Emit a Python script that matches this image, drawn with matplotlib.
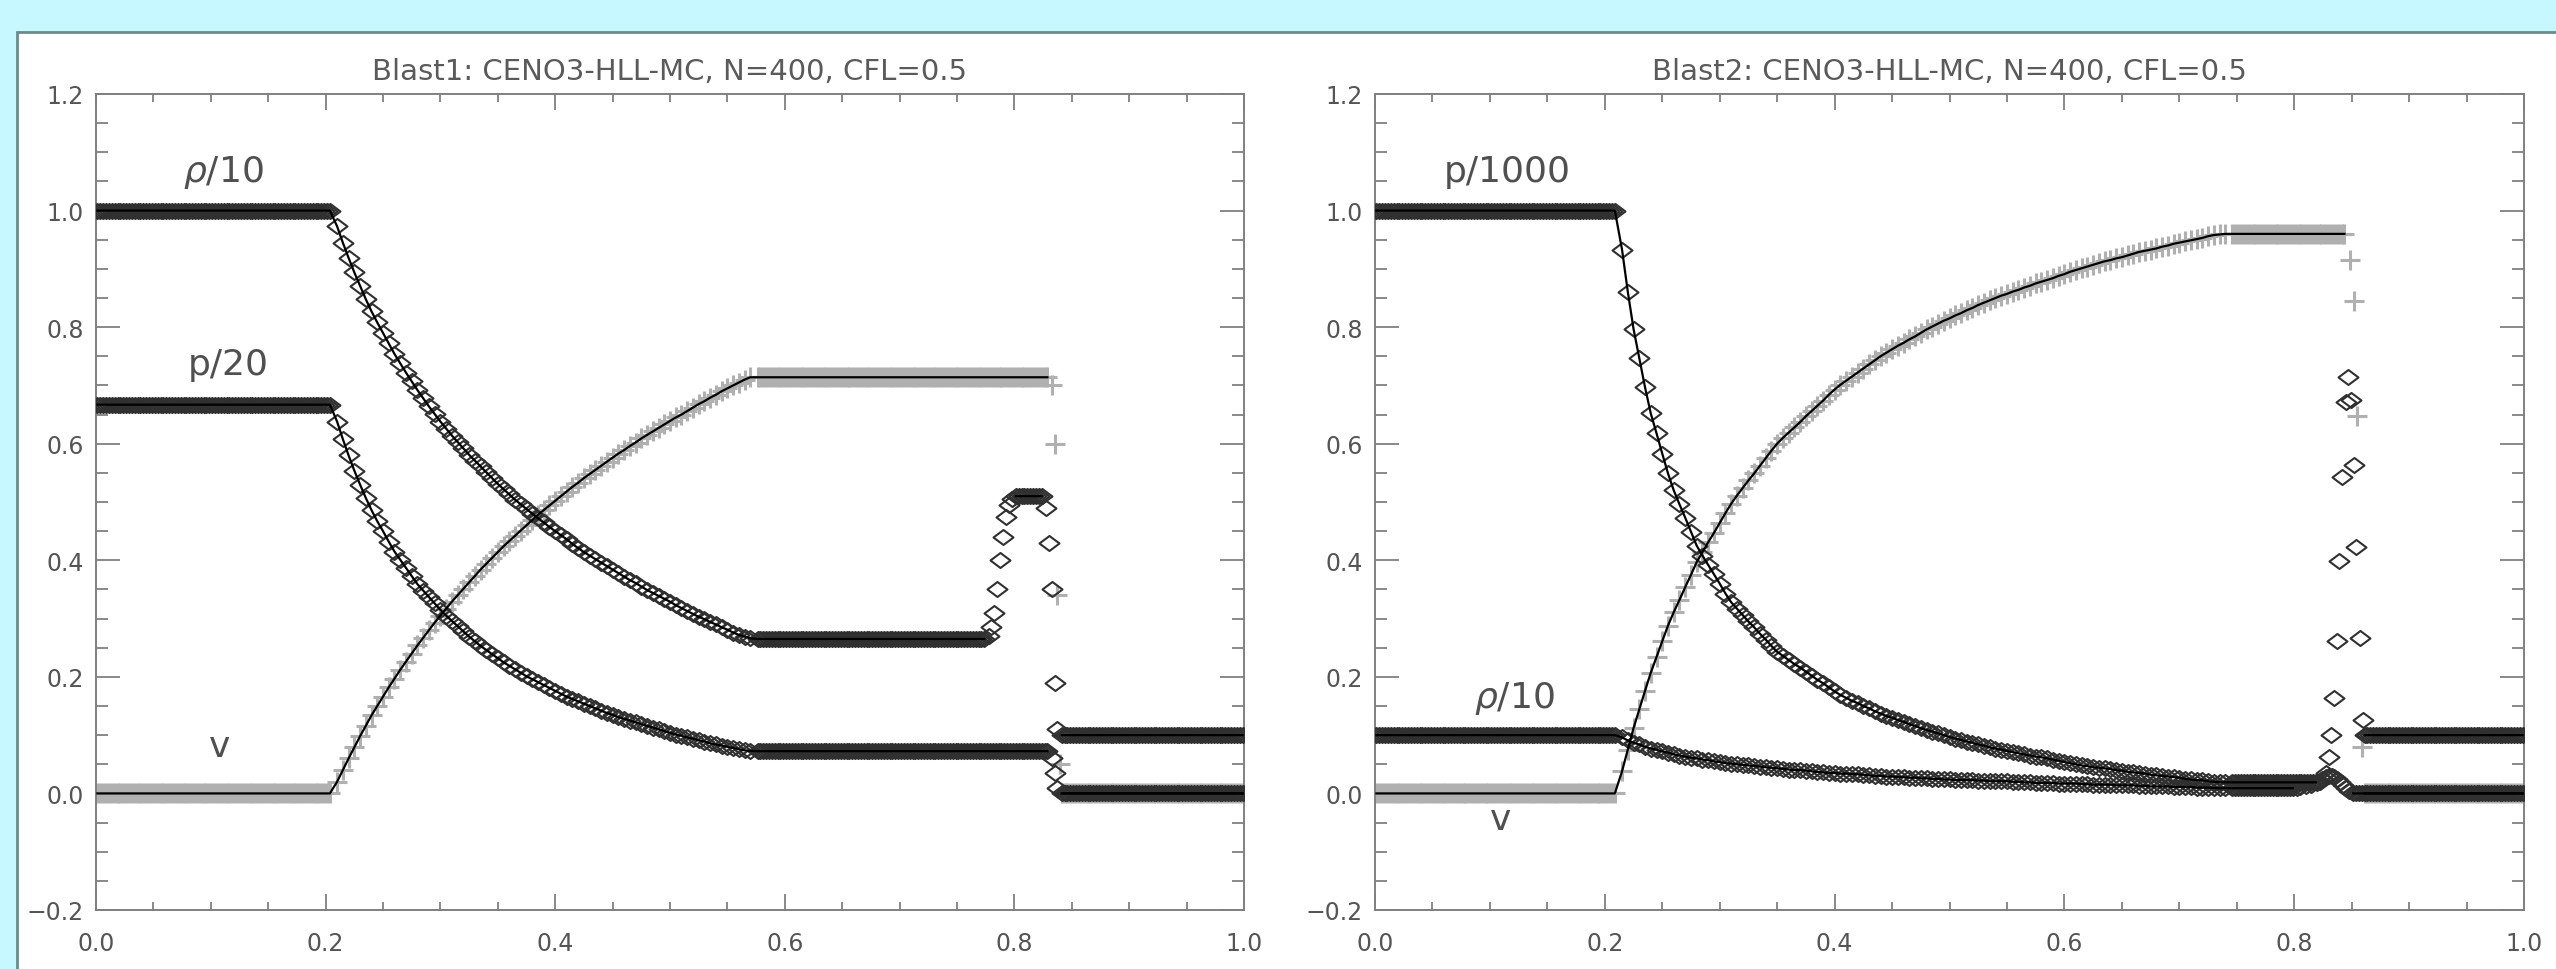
import numpy as np
import matplotlib
matplotlib.use("Agg")
import matplotlib.pyplot as plt
from matplotlib.path import Path
from matplotlib.patches import Rectangle
from matplotlib.ticker import MultipleLocator, FuncFormatter

N = 400
cells = (np.arange(N) + 0.5) / N

titles = ["Blast1: CENO3-HLL-MC, N=400, CFL=0.5",
          "Blast2: CENO3-HLL-MC, N=400, CFL=0.5"]

# ---- Blast1 (left) ----
# plateaus: (x from, x to, value)
b1_rho_flat = [(0.0, 0.205, 1.0), (0.575, 0.776, 0.265), (0.799, 0.826, 0.51), (0.839, 1.0, 0.1)]
b1_p_flat = [(0.0, 0.205, 0.667), (0.575, 0.831, 0.0725), (0.839, 1.0, 0.0)]
b1_v_flat = [(0.0, 0.205, 0.0), (0.575, 0.829, 0.714), (0.841, 1.0, 0.0)]

# rarefaction fan, read every 0.005 from x=0.21 to 0.57
b1_fan_x = np.round(np.arange(0.21, 0.5701, 0.005), 3)
b1_fan_rho = [0.973, 0.945, 0.919, 0.894, 0.871, 0.848, 0.827, 0.808, 0.790, 0.772,
              0.754, 0.738, 0.722, 0.707, 0.692, 0.678, 0.664, 0.651, 0.638, 0.626,
              0.614, 0.603, 0.592, 0.581, 0.571, 0.561, 0.551, 0.541, 0.531, 0.522,
              0.513, 0.504, 0.496, 0.488, 0.480, 0.472, 0.465, 0.457, 0.450, 0.443,
              0.436, 0.428, 0.421, 0.414, 0.408, 0.402, 0.396, 0.390, 0.384, 0.378,
              0.372, 0.366, 0.361, 0.355, 0.349, 0.344, 0.339, 0.334, 0.329, 0.323,
              0.318, 0.313, 0.308, 0.303, 0.299, 0.294, 0.290, 0.285, 0.281, 0.276,
              0.272, 0.269, 0.266]
b1_fan_p = [0.638, 0.608, 0.580, 0.554, 0.530, 0.507, 0.486, 0.467, 0.450, 0.432,
            0.415, 0.401, 0.387, 0.373, 0.359, 0.348, 0.337, 0.326, 0.315, 0.305,
            0.296, 0.287, 0.278, 0.269, 0.261, 0.253, 0.246, 0.239, 0.232, 0.225,
            0.219, 0.213, 0.207, 0.201, 0.196, 0.191, 0.186, 0.181, 0.176, 0.171,
            0.166, 0.162, 0.158, 0.154, 0.150, 0.146, 0.142, 0.138, 0.135, 0.131,
            0.128, 0.125, 0.122, 0.119, 0.116, 0.113, 0.110, 0.107, 0.104, 0.101,
            0.099, 0.096, 0.094, 0.091, 0.089, 0.086, 0.084, 0.082, 0.080, 0.078,
            0.076, 0.074, 0.073]
b1_fan_v = [0.020, 0.040, 0.060, 0.079, 0.098, 0.116, 0.134, 0.150, 0.166, 0.182,
            0.197, 0.212, 0.226, 0.240, 0.254, 0.267, 0.280, 0.293, 0.305, 0.317,
            0.329, 0.340, 0.351, 0.362, 0.373, 0.384, 0.394, 0.404, 0.414, 0.424,
            0.433, 0.442, 0.451, 0.460, 0.469, 0.478, 0.486, 0.494, 0.502, 0.510,
            0.518, 0.526, 0.533, 0.541, 0.548, 0.555, 0.562, 0.569, 0.576, 0.583,
            0.589, 0.596, 0.602, 0.609, 0.615, 0.621, 0.627, 0.633, 0.639, 0.645,
            0.650, 0.656, 0.662, 0.668, 0.673, 0.679, 0.684, 0.690, 0.695, 0.700,
            0.705, 0.710, 0.714]

# contact / shock cells
b1_rho_sx = [0.7775, 0.78, 0.7825, 0.785, 0.7875, 0.79, 0.7925, 0.795, 0.7975,
             0.8275, 0.83, 0.8325, 0.835, 0.8375]
b1_rho_sy = [0.27, 0.285, 0.31, 0.35, 0.40, 0.44, 0.475, 0.495, 0.505,
             0.49, 0.43, 0.35, 0.19, 0.11]
b1_p_sx = [0.8325, 0.835, 0.8375]
b1_p_sy = [0.06, 0.035, 0.01]
b1_v_sx = [0.8325, 0.835, 0.8375, 0.84]
b1_v_sy = [0.70, 0.60, 0.34, 0.05]

# ---- Blast2 (right) ----
b2_rho_flat = [(0.0, 0.21, 0.1), (0.745, 0.80, 0.009), (0.861, 1.0, 0.1)]
b2_p_flat = [(0.0, 0.21, 1.0), (0.745, 0.82, 0.019), (0.849, 1.0, 0.0)]
b2_v_flat = [(0.0, 0.21, 0.0), (0.745, 0.846, 0.96), (0.861, 1.0, 0.0)]

# rarefaction fan, read every 0.005 from x=0.215 to 0.74
b2_fan_x = np.round(np.arange(0.215, 0.7401, 0.005), 3)
b2_fan_p = [0.933, 0.861, 0.797, 0.747, 0.697, 0.652, 0.618, 0.583, 0.549, 0.520,
            0.496, 0.473, 0.449, 0.425, 0.408, 0.392, 0.376, 0.360, 0.343, 0.328,
            0.317, 0.306, 0.295, 0.285, 0.274, 0.264, 0.253, 0.243, 0.236, 0.229,
            0.222, 0.216, 0.209, 0.202, 0.195, 0.189, 0.182, 0.175, 0.169, 0.164,
            0.159, 0.155, 0.150, 0.146, 0.141, 0.137, 0.133, 0.130, 0.126, 0.123,
            0.119, 0.116, 0.112, 0.109, 0.106, 0.103, 0.100, 0.097, 0.094, 0.092,
            0.089, 0.087, 0.084, 0.082, 0.079, 0.077, 0.075, 0.073, 0.071, 0.069,
            0.067, 0.065, 0.063, 0.062, 0.060, 0.058, 0.056, 0.054, 0.052, 0.050,
            0.048, 0.047, 0.045, 0.044, 0.043, 0.042, 0.040, 0.039, 0.037, 0.036,
            0.035, 0.034, 0.032, 0.031, 0.030, 0.029, 0.028, 0.027, 0.025, 0.024,
            0.023, 0.023, 0.021, 0.020, 0.019, 0.019]
b2_fan_rho = [0.096, 0.091, 0.087, 0.084, 0.080, 0.077, 0.075, 0.072, 0.070, 0.067,
              0.065, 0.063, 0.061, 0.060, 0.058, 0.057, 0.055, 0.054, 0.052, 0.051,
              0.050, 0.049, 0.048, 0.047, 0.046, 0.045, 0.044, 0.043, 0.042, 0.041,
              0.040, 0.040, 0.039, 0.038, 0.037, 0.036, 0.035, 0.035, 0.034, 0.034,
              0.033, 0.033, 0.032, 0.031, 0.030, 0.030, 0.029, 0.029, 0.028, 0.028,
              0.027, 0.027, 0.026, 0.026, 0.025, 0.025, 0.024, 0.024, 0.023, 0.023,
              0.023, 0.023, 0.022, 0.022, 0.021, 0.021, 0.021, 0.021, 0.020, 0.020,
              0.019, 0.019, 0.018, 0.018, 0.018, 0.018, 0.017, 0.017, 0.017, 0.017,
              0.016, 0.016, 0.015, 0.015, 0.015, 0.015, 0.014, 0.014, 0.014, 0.014,
              0.013, 0.013, 0.012, 0.012, 0.012, 0.012, 0.011, 0.011, 0.011, 0.011,
              0.010, 0.010, 0.010, 0.0095, 0.009, 0.009]
b2_fan_v = [0.038, 0.075, 0.112, 0.144, 0.176, 0.207, 0.234, 0.261, 0.288, 0.311,
            0.332, 0.354, 0.375, 0.397, 0.414, 0.431, 0.447, 0.464, 0.481, 0.497,
            0.511, 0.524, 0.537, 0.549, 0.562, 0.575, 0.588, 0.600, 0.610, 0.619,
            0.628, 0.637, 0.647, 0.656, 0.665, 0.674, 0.684, 0.693, 0.701, 0.708,
            0.715, 0.722, 0.729, 0.736, 0.743, 0.750, 0.756, 0.762, 0.768, 0.773,
            0.779, 0.784, 0.790, 0.796, 0.801, 0.806, 0.811, 0.815, 0.820, 0.824,
            0.829, 0.833, 0.838, 0.842, 0.846, 0.850, 0.854, 0.857, 0.861, 0.864,
            0.868, 0.871, 0.875, 0.878, 0.881, 0.884, 0.888, 0.891, 0.895, 0.898,
            0.901, 0.904, 0.907, 0.910, 0.913, 0.915, 0.918, 0.920, 0.923, 0.926,
            0.929, 0.931, 0.933, 0.935, 0.938, 0.940, 0.943, 0.945, 0.947, 0.949,
            0.951, 0.953, 0.956, 0.958, 0.959, 0.960]

b2_rho_sx = [0.8025, 0.805, 0.81, 0.815, 0.82, 0.824, 0.8275, 0.830, 0.832, 0.835,
             0.837, 0.839, 0.842, 0.845, 0.847, 0.849, 0.852, 0.854, 0.857, 0.860]
b2_rho_sy = [0.010, 0.011, 0.012, 0.014, 0.018, 0.025, 0.035, 0.062, 0.101, 0.164,
             0.262, 0.399, 0.543, 0.671, 0.714, 0.675, 0.563, 0.422, 0.266, 0.126]
b2_p_sx = [0.8225, 0.825, 0.8275, 0.83, 0.8325, 0.835, 0.8375, 0.84, 0.8425, 0.845, 0.8475]
b2_p_sy = [0.020, 0.024, 0.028, 0.030, 0.030, 0.028, 0.025, 0.020, 0.015, 0.010, 0.005]
b2_v_sx = [0.8485, 0.852, 0.855, 0.859]
b2_v_sy = [0.915, 0.845, 0.648, 0.080]

labels_b1 = [(r"$\rho$/10", 0.111, 1.05), ("p/20", 0.115, 0.72), ("v", 0.108, 0.064)]
labels_b2 = [("p/1000", 0.115, 1.05), (r"$\rho$/10", 0.121, 0.149), ("v", 0.109, -0.061)]


def build(flats, fx, fy, sx=(), sy=()):
    xs, ys = [], []
    for x0, x1, val in flats:
        c = cells[(cells >= x0) & (cells < x1)]
        xs.append(c)
        ys.append(np.full(c.size, val))
    xs += [np.asarray(fx, dtype=float), np.asarray(sx, dtype=float)]
    ys += [np.asarray(fy, dtype=float), np.asarray(sy, dtype=float)]
    x = np.concatenate(xs)
    y = np.concatenate(ys)
    order = np.argsort(x)
    return x[order], y[order]


def smooth_line(flats, fx, fy):
    # solid line only over the smooth parts, broken at the jumps
    x, y = build(flats, fx, fy)
    gaps = np.where(np.diff(x) > 0.008)[0] + 1
    return np.insert(x, gaps, np.nan), np.insert(y, gaps, np.nan)


diamond = Path([(-1, 0), (0, 0.75), (1, 0), (0, -0.75), (-1, 0)],
               [Path.MOVETO, Path.LINETO, Path.LINETO, Path.LINETO, Path.CLOSEPOLY])

fig = plt.figure(figsize=(25.56, 9.70), dpi=100, facecolor="#c8f8ff")
fig.patches.append(Rectangle((17 / 2556, -0.01), 1.0, (970 - 33) / 970 + 0.01,
                             transform=fig.transFigure, facecolor="white",
                             edgecolor="#6f8a8a", linewidth=2, zorder=-10))

ax1 = fig.add_axes([96 / 2556, 59 / 970, 1148 / 2556, 816 / 970])
ax2 = fig.add_axes([1375 / 2556, 59 / 970, 1149 / 2556, 816 / 970])

panels = [
    (ax1, titles[0], labels_b1,
     [(b1_rho_flat, b1_fan_x, b1_fan_rho, b1_rho_sx, b1_rho_sy),
      (b1_p_flat, b1_fan_x, b1_fan_p, b1_p_sx, b1_p_sy),
      (b1_v_flat, b1_fan_x, b1_fan_v, b1_v_sx, b1_v_sy)]),
    (ax2, titles[1], labels_b2,
     [(b2_rho_flat, b2_fan_x, b2_fan_rho, b2_rho_sx, b2_rho_sy),
      (b2_p_flat, b2_fan_x, b2_fan_p, b2_p_sx, b2_p_sy),
      (b2_v_flat, b2_fan_x, b2_fan_v, b2_v_sx, b2_v_sy)]),
]

fmt = FuncFormatter(lambda v, pos: f"{v:.1f}".replace("-", "\u2212"))

for ax, title, labels, series in panels:
    ax.set_facecolor("none")
    ax.set_zorder(5)
    rho, p, v = [build(*s) for s in series]
    ax.plot(v[0], v[1], linestyle="none", marker="+", markersize=14,
            markeredgewidth=2.2, color="#b0b0b0", zorder=2)
    for s in (p, rho):
        ax.plot(s[0], s[1], linestyle="none", marker=diamond, markersize=14.4,
                markeredgewidth=1.5, markerfacecolor="none",
                markeredgecolor="#303030", zorder=3)
    for s in series:
        lx, ly = smooth_line(*s[:3])
        ax.plot(lx, ly, color="black", linewidth=1.6, zorder=4)

    for txt, tx, ty in labels:
        ax.text(tx, ty, txt, fontsize=26, color="#505050", ha="center", va="baseline")

    ax.set_xlim(0, 1)
    ax.set_ylim(-0.2, 1.2)
    ax.xaxis.set_major_locator(MultipleLocator(0.2))
    ax.xaxis.set_minor_locator(MultipleLocator(0.05))
    ax.yaxis.set_major_locator(MultipleLocator(0.2))
    ax.yaxis.set_minor_locator(MultipleLocator(0.05))
    ax.xaxis.set_major_formatter(fmt)
    ax.yaxis.set_major_formatter(fmt)
    ax.tick_params(which="both", direction="in", top=True, right=True,
                   color="#808080", width=1.3, labelsize=17, labelcolor="#555555")
    ax.tick_params(axis="x", which="major", length=11.5, pad=15)
    ax.tick_params(axis="x", which="minor", length=5.8)
    ax.tick_params(axis="y", which="major", length=17, pad=9)
    ax.tick_params(axis="y", which="minor", length=8.6)
    for sp in ax.spines.values():
        sp.set_color("#808080")
        sp.set_linewidth(1.4)
    ax.set_title(title, fontsize=21, color="#5a5a5a", pad=11)

fig.savefig("out.png", dpi=100, facecolor=fig.get_facecolor())
